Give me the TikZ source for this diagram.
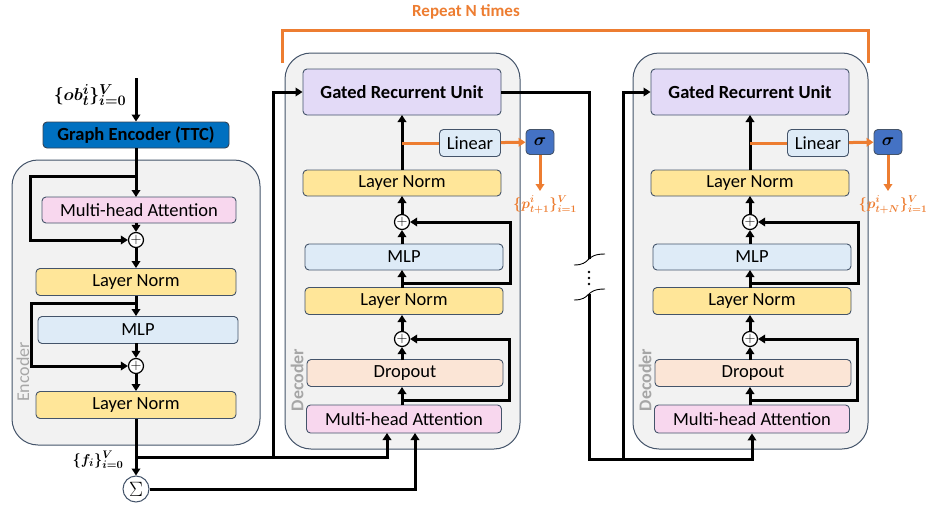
\documentclass[tikz,border=0pt]{standalone}
\usepackage{fontspec}
\setmainfont{Carlito}
\usetikzlibrary{arrows.meta}

\definecolor{bordc}{HTML}{44546A}
\definecolor{contc}{HTML}{F2F2F2}
\definecolor{gec}{HTML}{0070C0}
\definecolor{mhac}{HTML}{F8D7EE}
\definecolor{lnc}{HTML}{FFE699}
\definecolor{mlpc}{HTML}{DEEBF7}
\definecolor{dropc}{HTML}{FBE5D6}
\definecolor{gruc}{HTML}{E3DAF7}
\definecolor{sigc}{HTML}{4472C4}
\definecolor{orc}{HTML}{ED7D31}
\definecolor{lblc}{HTML}{A6A6A6}

\newcommand\boxfont{\fontsize{18.5}{21}\selectfont}

\begin{document}
\begin{tikzpicture}[x=1pt,y=-1pt,
	blk/.style={draw=bordc, line width=0.9pt, rounded corners=4pt, minimum width=198pt,
		minimum height=27pt, inner sep=0pt, font=\boxfont},
	cont/.style={draw=bordc, fill=contc, line width=1pt, rounded corners=26pt},
	addop/.style={circle, draw, line width=1.2pt, fill=white, inner sep=0pt,
		minimum size=15pt, font=\fontsize{15}{15}\selectfont},
	conn/.style={line width=3pt},
	arr/.style={conn, -{Triangle[length=7pt,width=8.5pt]}},
	orconn/.style={draw=orc, line width=3pt},
	orarr/.style={orconn, -{Triangle[length=7pt,width=8.5pt]}},
	sidelbl/.style={rotate=90, text=lblc, font=\fontsize{18}{20}\selectfont}]
\useasboundingbox (0,0) rectangle (930,506);

% repeat bracket
\node[text=orc, font=\fontsize{17}{19}\selectfont\bfseries] (rep) at (466,12) {Repeat N times};
\draw[orc, line width=3pt] (282,63) -- (282,30) -- (868,30) -- (868,63);

% encoder
\draw[cont] (12,160) rectangle (260,445);
\node[sidelbl] (enclbl) at (23,372) {Encoder};
\node[font=\fontsize{19}{22}\selectfont\boldmath] (obs) at (90,95) {$\{ob_t^i\}_{i=0}^V$};
\node[blk, fill=gec, draw=bordc!80!black, minimum width=186pt, minimum height=26pt,
	font=\boxfont\bfseries] (ge) at (136,135) {Graph Encoder (TTC)};
\node[blk, fill=mhac, minimum width=194pt, minimum height=26pt] (mha0) at (139,210) {Multi-head Attention};
\node[addop] (add1) at (136,240) {$+$};
\node[blk, fill=lnc, minimum width=200pt] (ln1) at (136,282) {Layer Norm};
\node[blk, fill=mlpc, minimum width=200pt] (mlp0) at (138,330) {MLP};
\node[addop] (add2) at (136,366) {$+$};
\node[blk, fill=lnc, minimum width=200pt] (ln2) at (136,405) {Layer Norm};
\node[font=\fontsize{15}{17}\selectfont\boldmath] (feat) at (98,460) {$\{f_i\}_{i=0}^V$};
\node[circle, draw=bordc, line width=1pt, fill=white, inner sep=0pt, minimum size=26pt,
	font=\fontsize{20}{20}\selectfont] (sum) at (136,489) {$\Sigma$};

\coordinate (intop) at (136,78);
\coordinate (s1) at (136,176);
\coordinate (s1l) at (30,176);
\coordinate (s2) at (136,303);
\coordinate (s2l) at (31,303);
\coordinate (f0) at (136,457);
\coordinate (j1) at (273,457);

\draw[arr] (intop) -- (ge);
\draw[arr] (ge) -- (136,197);
\draw[arr] (s1) -- (s1l) |- (add1);
\draw[arr] (136,223) -- (add1);
\draw[arr] (add1) -- (ln1);
\draw[arr] (ln1) -- (136,316);
\draw[arr] (s2) -- (s2l) |- (add2);
\draw[arr] (136,343) -- (add2);
\draw[arr] (add2) -- (ln2);
\draw[arr] (ln2) -- (sum);

% decoders
\foreach \k/\dx/\lab in {1/0/{t+1},2/348/{t+N}}{
	\draw[cont] ({285+\dx},53) rectangle ({520+\dx},449);
	\node[sidelbl, font=\fontsize{18}{20}\selectfont\bfseries] (declbl\k) at ({297+\dx},380) {Decoder};
	\node[blk, fill=gruc, minimum height=46pt, font=\boxfont\bfseries] (gru\k) at ({402+\dx},92) {Gated Recurrent Unit};
	\node[blk, fill=mlpc, minimum width=61pt] (lin\k) at ({470+\dx},143) {Linear};
	\node[blk, fill=sigc, minimum width=28pt, minimum height=25pt, font=\boxfont\boldmath] (sig\k) at ({540+\dx},142) {$\sigma$};
	\node[text=orc, font=\fontsize{14}{16}\selectfont\boldmath] (p\k) at ({545+\dx},205) {$\{p_{\lab}^i\}_{i=1}^V$};
	\node[blk, fill=lnc, minimum height=26pt] (dln\k) at ({402+\dx},183) {Layer Norm};
	\node[addop] (dadd\k) at ({402+\dx},222) {$+$};
	\node[blk, fill=mlpc, minimum height=26pt] (dmlp\k) at ({404+\dx},257) {MLP};
	\node[blk, fill=lnc] (dlnb\k) at ({404+\dx},301) {Layer Norm};
	\node[addop] (daddb\k) at ({402+\dx},339) {$+$};
	\node[blk, fill=dropc, minimum width=196pt] (ddrop\k) at ({405+\dx},373) {Dropout};
	\node[blk, fill=mhac, minimum width=195pt, minimum height=28pt] (dmha\k) at ({404+\dx},419) {Multi-head Attention};

	\coordinate (o\k) at ({402+\dx},143);
	\coordinate (sk\k) at ({402+\dx},283);
	\coordinate (ska\k) at ({510+\dx},283);
	\coordinate (skb\k) at ({402+\dx},400);
	\coordinate (skc\k) at ({509+\dx},400);

	\draw[arr] ({402+\dx},170) -- ({402+\dx},115);
	\draw[orconn] (o\k) -- (lin\k);
	\draw[orarr] (lin\k) -- (sig\k);
	\draw[orarr] (sig\k) -- ({540+\dx},191);
	\draw[arr] (dadd\k) -- ({402+\dx},196);
	\draw[arr] ({402+\dx},244) -- (dadd\k);
	\draw[arr] ({402+\dx},288) -- ({402+\dx},270);
	\draw[arr] (sk\k) -- (ska\k) |- (dadd\k);
	\draw[arr] (daddb\k) -- ({402+\dx},315);
	\draw[arr] ({402+\dx},360) -- (daddb\k);
	\draw[arr] ({402+\dx},405) -- ({402+\dx},387);
	\draw[arr] (skb\k) -- (skc\k) |- (daddb\k);
}

% encoder to decoder 1
\draw[conn] (f0) -- (j1);
\draw[arr] (j1) -| (387,433);
\draw[arr] (j1) |- (gru1);
\draw[arr] (sum) -| (415,433);

% decoder 1 to decoder N, with a break
\coordinate (brka) at (589,259);
\coordinate (brkb) at (589,294);
\coordinate (j2) at (623,459);
\draw[conn] (gru1) -| (brka);
\draw[line width=0.9pt] (574,265) .. controls (592,265) and (584,254) .. (605,254);
\foreach \yy in {272,278,284} \fill (589,\yy) circle (1.4pt);
\draw[line width=0.9pt] (574,300) .. controls (592,300) and (584,289) .. (605,289);
\draw[conn] (brkb) |- (j2);
\draw[arr] (j2) |- (gru2);
\draw[arr] (j2) -| (dmha2);
\end{tikzpicture}
\end{document}
